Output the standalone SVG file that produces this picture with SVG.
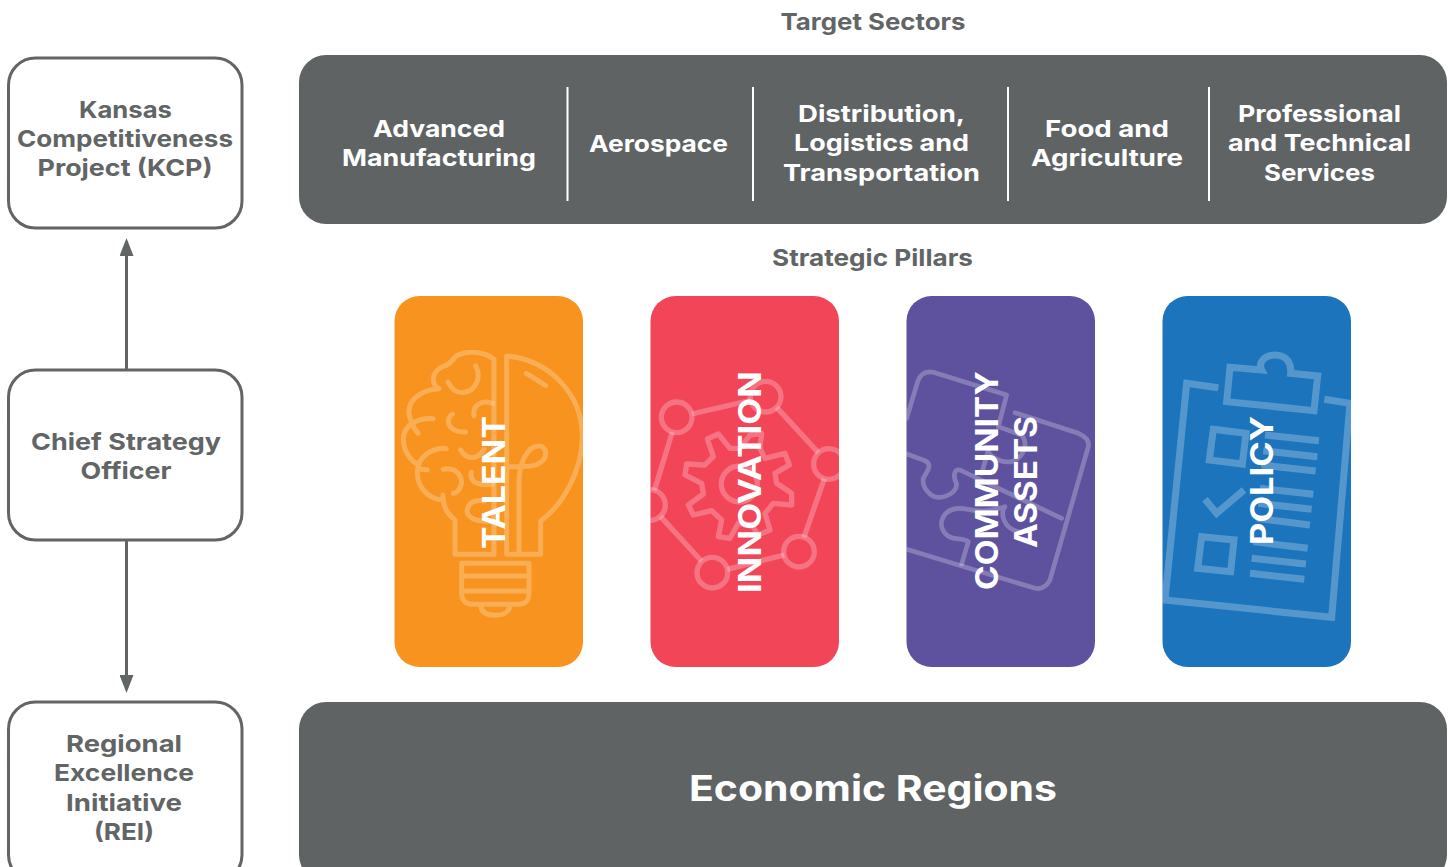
<svg xmlns="http://www.w3.org/2000/svg" width="1452" height="867" viewBox="0 0 1452 867">
<style>
text{font-family:Inter,"Liberation Sans",sans-serif;font-weight:700;text-anchor:middle;font-size:23.5px;fill:#626566}
.w{fill:#fff}
.v{fill:#fff;font-size:31px;text-anchor:start}
.box{fill:#fff;stroke:#626566;stroke-width:3}
.bar{fill:#606364}
.div{stroke:#fff;stroke-width:2}
.ico{fill:none;stroke:#fff;stroke-opacity:.25;stroke-linecap:round;stroke-linejoin:round;stroke-width:15}
.flat{stroke-linecap:butt;stroke-linejoin:miter;stroke-width:21}
.conn{stroke:#626566;stroke-width:3;fill:none;marker-end:url(#arr)}
</style>
<defs>
<marker id="arr" markerUnits="userSpaceOnUse" viewBox="0 -7 18 14" refX="0" refY="0" markerWidth="18" markerHeight="14" orient="auto"><path d="M0 -7L18 0L0 7Z" fill="#626566"/></marker>
<clipPath id="c1"><rect x="394.500" y="296" width="188.500" height="371" rx="25"/></clipPath>
<clipPath id="c2"><rect x="650.500" y="296" width="188.500" height="371" rx="25"/></clipPath>
<clipPath id="c3"><rect x="906.500" y="296" width="188.500" height="371" rx="25"/></clipPath>
<clipPath id="c4"><rect x="1162.500" y="296" width="188.500" height="371" rx="25"/></clipPath>
</defs>
<g id="connectors">
<path class="conn" d="M126.500 370V256"/>
<path class="conn" d="M126.500 540V675"/>
</g>
<g id="node-kcp">
<rect class="box" x="8.500" y="58" width="233.500" height="170" rx="27"/>
<text x="125.500" y="118" textLength="93" lengthAdjust="spacingAndGlyphs">Kansas</text>
<text x="125" y="147" textLength="216" lengthAdjust="spacingAndGlyphs">Competitiveness</text>
<text x="125" y="176" textLength="175" lengthAdjust="spacingAndGlyphs">Project (KCP)</text>
</g>
<g id="node-cso">
<rect class="box" x="8.500" y="370" width="233.500" height="170" rx="27"/>
<text x="126" y="450" textLength="190" lengthAdjust="spacingAndGlyphs">Chief Strategy</text>
<text x="126" y="479" textLength="91" lengthAdjust="spacingAndGlyphs">Officer</text>
</g>
<g id="node-rei">
<rect class="box" x="8.500" y="702" width="233.500" height="180" rx="27"/>
<text x="124" y="752" textLength="116" lengthAdjust="spacingAndGlyphs">Regional</text>
<text x="124" y="781" textLength="140" lengthAdjust="spacingAndGlyphs">Excellence</text>
<text x="124" y="811" textLength="116" lengthAdjust="spacingAndGlyphs">Initiative</text>
<text x="124" y="840" textLength="60" lengthAdjust="spacingAndGlyphs">(REI)</text>
</g>
<g id="label-sectors"><text x="873" y="30" textLength="185" lengthAdjust="spacingAndGlyphs">Target Sectors</text></g>
<g id="node-sectors">
<rect class="bar" x="299" y="55" width="1148" height="169" rx="27"/>
<path class="div" d="M567.500 87V201M753 87V201M1008 87V201M1209 87V201"/>
<text class="w" x="439" y="137" textLength="132" lengthAdjust="spacingAndGlyphs">Advanced</text>
<text class="w" x="439" y="166" textLength="194" lengthAdjust="spacingAndGlyphs">Manufacturing</text>
<text class="w" x="658.500" y="151.500" textLength="139" lengthAdjust="spacingAndGlyphs">Aerospace</text>
<text class="w" x="881.500" y="122" textLength="167" lengthAdjust="spacingAndGlyphs">Distribution,</text>
<text class="w" x="881.500" y="151" textLength="175" lengthAdjust="spacingAndGlyphs">Logistics and</text>
<text class="w" x="881.500" y="181" textLength="197" lengthAdjust="spacingAndGlyphs">Transportation</text>
<text class="w" x="1107" y="137" textLength="124" lengthAdjust="spacingAndGlyphs">Food and</text>
<text class="w" x="1107" y="166" textLength="152" lengthAdjust="spacingAndGlyphs">Agriculture</text>
<text class="w" x="1319.500" y="122" textLength="163" lengthAdjust="spacingAndGlyphs">Professional</text>
<text class="w" x="1319.500" y="151" textLength="183" lengthAdjust="spacingAndGlyphs">and Technical</text>
<text class="w" x="1319.500" y="181" textLength="111" lengthAdjust="spacingAndGlyphs">Services</text>
</g>
<g id="label-pillars"><text x="872.500" y="266" textLength="201" lengthAdjust="spacingAndGlyphs">Strategic Pillars</text></g>
<g id="node-talent">
<rect x="394.500" y="296" width="188.500" height="371" rx="25" fill="#F7931E"/>
<g clip-path="url(#c1)"><g class="ico" transform="translate(394 296) scale(.3333)">
<path d="M300 190C275 170 225 160 190 178C172 190 175 203 150 210C120 222 108 250 128 275M135 278C85 280 45 310 45 345C45 365 52 378 58 385M118 368C75 365 28 385 28 430C28 465 50 495 72 505M72 412L52 385M157 458C115 455 70 480 70 530C70 575 105 610 147 612M147 597C147 630 160 655 183 672V775H300V190M100 522L72 518"/>
<path d="M245 210C262 240 250 285 205 290C185 290 170 275 162 258M240 360C235 330 260 310 295 322M175 355C155 365 155 410 215 408M200 462C215 490 250 495 270 460M148 520C190 510 210 550 200 570C195 585 185 590 178 592M232 528C225 560 255 570 295 565M295 675C240 680 215 660 220 640C225 620 240 610 270 615"/>
<path d="M338 180C460 190 565 290 565 420C565 520 510 625 440 675V775H338ZM397 232L455 268M375 775V560C375 500 400 450 435 450C460 450 465 490 430 505C410 515 370 512 338 512"/>
<path d="M203 802H405V890C405 915 395 925 370 925H240C215 925 203 915 203 890ZM203 840H405M203 885H405M260 928C262 950 280 958 303 958C330 958 345 950 348 928"/>
</g></g>
<text class="v" transform="translate(504.500 549) rotate(-90)" textLength="133" lengthAdjust="spacingAndGlyphs">TALENT</text>
</g>
<g id="node-innovation">
<rect x="650.500" y="296" width="188.500" height="371" rx="25" fill="#F24558"/>
<g clip-path="url(#c2)"><g class="ico" transform="translate(650 340) scale(.3333)" style="stroke-linecap:butt;stroke-width:16">
<circle cx="80" cy="232" r="46"/><circle cx="347" cy="170" r="46"/><circle cx="537" cy="372" r="46"/><circle cx="447" cy="635" r="46"/><circle cx="187" cy="698" r="46"/><circle cx="0" cy="495" r="46"/>
<path d="M125 222L302 181M380 202L505 338M523 416L462 592M403 645L232 688M155 664L32 530M67 276L13 452"/>
<path d="M205 282L172 297L190 350L165 375L110 372L105 405L155 430L160 462L115 495L130 525L185 512L215 540L205 590L240 595L265 550L305 555L325 585L360 570L345 520L370 490L425 495L425 460L380 430L375 400L418 375L405 340L345 355L330 325L335 280L300 285L270 325L240 325Z"/>
<circle cx="268" cy="432" r="54"/>
</g></g>
<text class="v" transform="translate(760.500 593) rotate(-90)" textLength="222" lengthAdjust="spacingAndGlyphs">INNOVATION</text>
</g>
<g id="node-community">
<rect x="906.500" y="296" width="188.500" height="371" rx="25" fill="#5E529F"/>
<g clip-path="url(#c3)"><g class="ico" transform="translate(905 340) scale(.3333)" style="stroke-width:14">
<path d="M5 235L38 125Q50 90 85 97L305 165L280 260L350 285C370 310 360 350 320 365C280 370 250 345 250 330L230 400"/>
<path d="M330 218L520 280Q555 295 550 320L435 720Q420 750 390 745L5 628"/>
<path d="M5 342L60 362C85 375 65 395 55 415C50 440 75 475 105 472C140 468 165 445 150 420C145 400 150 388 165 390L470 535"/>
<path d="M170 672L190 605C170 590 140 605 120 580C95 550 115 505 165 505C195 505 220 525 300 500C285 520 295 565 340 575"/>
</g></g>
<text class="v" transform="translate(997.500 590) rotate(-90)" textLength="219" lengthAdjust="spacingAndGlyphs">COMMUNITY</text>
<text class="v" transform="translate(1036.500 548) rotate(-90)" textLength="132" lengthAdjust="spacingAndGlyphs">ASSETS</text>
</g>
<g id="node-policy">
<rect x="1162.500" y="296" width="188.500" height="371" rx="25" fill="#1C75BC"/>
<g clip-path="url(#c4)"><g class="ico flat" transform="translate(1160 340) scale(.3333)">
<path d="M175 143L80 130L15 780L515 832L570 190L493 178"/>
<path d="M305 90L210 82L200 185L462 212L473 108L392 100C395 70 380 45 345 45C310 45 295 70 305 90Z"/>
<path d="M160 268L258 280L247 372L148 360ZM125 590L222 600L212 695L113 685ZM135 478L170 520L252 450"/>
<path d="M315 285L477 302M310 332L472 350M305 375L467 393M300 445L460 463M295 490L455 508M290 535L450 555M280 605L443 625M275 655L438 672M270 700L433 718"/>
</g></g>
<text class="v" transform="translate(1272.500 545) rotate(-90)" textLength="129" lengthAdjust="spacingAndGlyphs">POLICY</text>
</g>
<g id="node-regions">
<rect class="bar" x="299" y="702" width="1148" height="180" rx="27"/>
<text class="w" x="873" y="801" style="font-size:36px" textLength="368" lengthAdjust="spacingAndGlyphs">Economic Regions</text>
</g>
</svg>
